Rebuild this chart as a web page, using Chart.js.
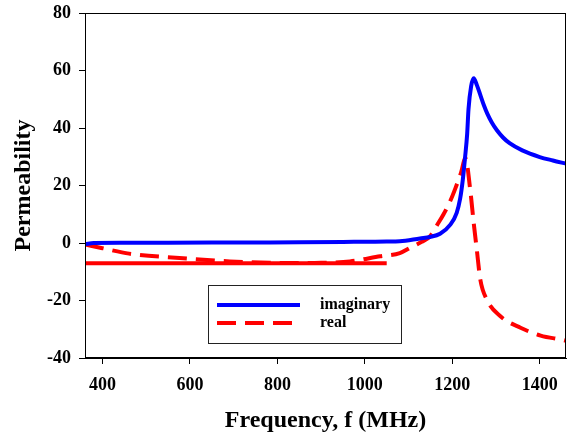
<!DOCTYPE html>
<html>
<head>
<meta charset="utf-8">
<script src="https://cdn.jsdelivr.net/npm/chart.js@4.4.1/dist/chart.umd.min.js"></script>
<style>
  body { margin: 0; background: #fff; }
  #wrap { width: 568px; height: 439px; }
</style>
</head>
<body>
<div id="wrap"><canvas id="permChart" width="568" height="439"></canvas></div>
<script>
// frequency (MHz) / value pairs
const imagFreq = [360, 380, 450, 550, 650, 750, 850, 950, 1000, 1050, 1080, 1126, 1149, 1172, 1195, 1210, 1218, 1224, 1229, 1234, 1237, 1243, 1249, 1256, 1264, 1272, 1280, 1290, 1302, 1316, 1331, 1360, 1400, 1430, 1460];
const imagVals = [-0.4, 0.0, 0.05, 0.1, 0.15, 0.2, 0.25, 0.35, 0.45, 0.5, 0.6, 1.6, 2.1, 3.2, 6.3, 10.5, 15.5, 22.0, 29.5, 38.0, 46.5, 54.5, 57.3, 55.0, 51.5, 48.0, 45.0, 42.0, 39.2, 36.7, 34.7, 32.2, 29.9, 28.7, 27.6];

const realFreq = [360, 400, 461, 576, 691, 782, 850, 900, 966, 1035, 1080, 1103, 1130, 1149, 1165, 1180, 1195, 1207, 1220, 1230, 1241, 1249, 1256, 1264, 1279, 1310, 1356, 1402, 1455, 1460];
const realVals = [-0.5, -1.8, -3.7, -5.2, -6.4, -6.9, -7.0, -6.9, -6.4, -4.6, -3.5, -1.7, 0.4, 2.3, 6.2, 10.0, 14.5, 19.0, 24.5, 29.5, 18.5, 6.9, -2.3, -12.7, -19.7, -25.5, -29.5, -32.2, -33.8, -34.0];

// flat red segment near the bottom-left
const flatFreq = [360, 1050];
const flatVals = [-7, -7];

const xTicks = [400, 600, 800, 1000, 1200, 1400];
const yTicks = [-40, -20, 0, 20, 40, 60, 80];

function pairs(xs, ys) {
    return xs.map((x, i) => ({ x: x, y: ys[i] }));
}

const serif = "'Liberation Serif', 'Times New Roman', serif";

// box around the plot (top + right sides)
const frame = {
    id: "frame",
    afterDatasetsDraw(chart) {
        const a = chart.chartArea;
        const c = chart.ctx;
        c.save();
        c.strokeStyle = "#000";
        c.lineWidth = 1;
        c.strokeRect(a.left + 0.5, a.top + 0.5, a.right - a.left - 1, a.bottom - a.top - 1);
        c.restore();
    }
};

// legend drawn inside the plot area
const boxLegend = {
    id: "boxLegend",
    afterDraw(chart) {
        const c = chart.ctx;
        const sets = chart.data.datasets.filter(d => d.label);
        c.save();
        c.fillStyle = "#fff";
        c.fillRect(208, 285, 193, 58);
        c.strokeStyle = "#222";
        c.lineWidth = 1;
        c.strokeRect(208.5, 285.5, 193, 58);
        c.font = "bold 16px " + serif;
        c.textBaseline = "middle";
        sets.forEach((d, i) => {
            const y = 305 + i * 18;
            c.beginPath();
            c.strokeStyle = d.borderColor;
            c.lineWidth = d.borderWidth;
            c.setLineDash(d.borderDash || []);
            c.moveTo(217, y);
            c.lineTo(300, y);
            c.stroke();
            c.setLineDash([]);
            c.fillStyle = "#000";
            c.fillText(d.label, 320, y);
        });
        c.restore();
    }
};

document.addEventListener("DOMContentLoaded", function () {
    const ctx = document.getElementById("permChart").getContext("2d");

    new Chart(ctx, {
        type: "line",
        data: {
            datasets: [
                {
                    label: "imaginary",
                    data: pairs(imagFreq, imagVals),
                    borderColor: "#0000ff",
                    borderWidth: 4,
                    pointRadius: 0,
                    cubicInterpolationMode: "monotone",
                    fill: false
                },
                {
                    label: "real",
                    data: pairs(realFreq, realVals),
                    borderColor: "#ff0000",
                    borderWidth: 4,
                    borderDash: [19, 9],
                    pointRadius: 0,
                    cubicInterpolationMode: "monotone",
                    fill: false
                },
                {
                    label: "",
                    data: pairs(flatFreq, flatVals),
                    borderColor: "#ff0000",
                    borderWidth: 4,
                    pointRadius: 0,
                    fill: false
                }
            ]
        },
        options: {
            responsive: false,
            animation: false,
            layout: { padding: { top: 13, right: 2, left: 0, bottom: 0 } },
            plugins: {
                legend: { display: false },
                tooltip: { enabled: false }
            },
            scales: {
                x: {
                    type: "linear",
                    min: 360,
                    max: 1460,
                    afterFit: s => {
                        s.height = 81;
                        s.paddingLeft = 0;
                        s.paddingRight = 0;
                    },
                    afterBuildTicks: s => { s.ticks = xTicks.map(v => ({ value: v })); },
                    grid: { drawOnChartArea: false, drawTicks: true, tickLength: 6, color: "#000" },
                    border: { display: true, color: "#000", width: 1 },
                    ticks: {
                        color: "#000",
                        padding: 11,
                        maxRotation: 0,
                        callback: v => String(v),
                        font: { family: serif, size: 18, weight: "bold" }
                    },
                    title: {
                        display: true,
                        text: "Frequency, f (MHz)",
                        color: "#000",
                        padding: { top: 0, bottom: 4 },
                        font: { family: serif, size: 24, weight: "bold" }
                    }
                },
                y: {
                    type: "linear",
                    min: -40,
                    max: 80,
                    afterFit: s => {
                        s.width = 85;
                        s.paddingTop = 0;
                        s.paddingBottom = 0;
                    },
                    afterBuildTicks: s => { s.ticks = yTicks.map(v => ({ value: v })); },
                    grid: { drawOnChartArea: false, drawTicks: true, tickLength: 6, color: "#000" },
                    border: { display: true, color: "#000", width: 1 },
                    ticks: {
                        color: "#000",
                        padding: 8,
                        callback: v => String(v),
                        font: { family: serif, size: 18, weight: "bold" }
                    },
                    title: {
                        display: true,
                        text: "Permeability",
                        color: "#000",
                        padding: { top: 9, bottom: 0 },
                        font: { family: serif, size: 24, weight: "bold" }
                    }
                }
            }
        },
        plugins: [frame, boxLegend]
    });
});
</script>
</body>
</html>
